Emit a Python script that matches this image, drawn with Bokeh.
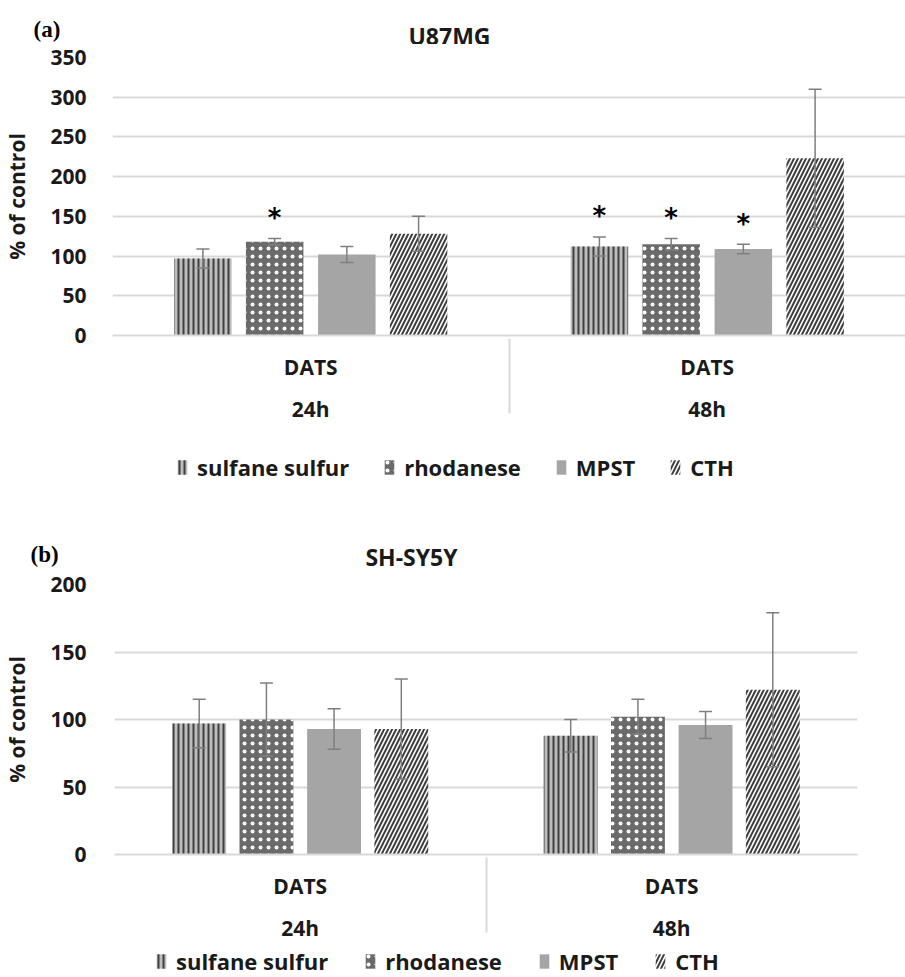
from bokeh.plotting import figure
from bokeh.models import (FactorRange, Range1d, ColumnDataSource, Whisker, TeeHead,
                          Legend, LegendItem, Label, FixedTicker)
from bokeh.layouts import column
from bokeh.transform import dodge
from bokeh.embed import file_html
from bokeh.resources import INLINE
from bokeh.core.properties import value

# ---------------- data ----------------
time_points = ["24h", "48h"]
treatment = "DATS"
series_names = ["sulfane sulfur", "rhodanese", "MPST", "CTH"]

# U87MG (% of control)
u87_sulfane = [97, 112]
u87_rhodanese = [118, 115]
u87_mpst = [102, 109]
u87_cth = [128, 223]
u87_sulfane_sd = [12, 12]
u87_rhodanese_sd = [4, 7]
u87_mpst_sd = [10, 6]
u87_cth_sd = [22, 87]
u87_sig_sulfane = [False, True]
u87_sig_rhodanese = [True, True]
u87_sig_mpst = [False, True]
u87_sig_cth = [False, False]
u87_ticks = [0, 50, 100, 150, 200, 250, 300, 350]

# SH-SY5Y (% of control)
sh_sulfane = [97, 88]
sh_rhodanese = [100, 102]
sh_mpst = [93, 96]
sh_cth = [93, 122]
sh_sulfane_sd = [18, 12]
sh_rhodanese_sd = [27, 13]
sh_mpst_sd = [15, 10]
sh_cth_sd = [37, 57]
sh_sig_sulfane = [False, False]
sh_sig_rhodanese = [False, False]
sh_sig_mpst = [False, False]
sh_sig_cth = [False, False]
sh_ticks = [0, 50, 100, 150, 200]

# ---------------- styling ----------------
FONT = "Open Sans"
TXT = "#1a1a1a"
W = 905
styles = [
    dict(fill_color="#bdbdbd", hatch_pattern="vertical_line", hatch_color="#3f3f3f",
         hatch_scale=5, hatch_weight=2),
    dict(fill_color="#6a6a6a", hatch_pattern="dot", hatch_color="white",
         hatch_scale=8, hatch_weight=2.5),
    dict(fill_color="#a5a5a5"),
    dict(fill_color="white", hatch_pattern="right_diagonal_line", hatch_color="#3f3f3f",
         hatch_scale=8, hatch_weight=2),
]
offsets = [-0.272, -0.091, 0.091, 0.272]
BAR_W = 0.145


def no_align(p):
    try:
        p.frame_align = False
    except Exception:
        pass
    return p


def blank(height):
    p = figure(width=W, height=height, x_axis_location=None, y_axis_location=None,
               min_border=0, toolbar_location=None, output_backend="svg", title=None)
    p.outline_line_color = None
    p.grid.visible = False
    return no_align(p)


def header(letter, title, height, letter_xy, title_xy):
    p = blank(height)
    p.add_layout(Label(x=letter_xy[0], y=letter_xy[1], x_units="screen", y_units="screen",
                       text=letter, text_font="Liberation Serif", text_font_size="23px",
                       text_font_style="bold", text_color="black",
                       text_align="left", text_baseline="middle"))
    p.add_layout(Label(x=title_xy[0], y=title_xy[1], x_units="screen", y_units="screen",
                       text=title, text_font=FONT, text_font_size="23px",
                       text_font_style="bold", text_color=TXT,
                       text_align="center", text_baseline="middle"))
    return p


def legend_row(height, legend_xy, spacing):
    p = blank(height)
    items = []
    for name, st in zip(series_names, styles):
        # zero-height key glyph: only used to draw the legend swatch
        r = p.vbar(x=[0], top=[0], width=0.5, line_color=None, **st)
        items.append(LegendItem(label=name, renderers=[r]))
    p.add_layout(Legend(items=items, orientation="horizontal", location=legend_xy,
                        label_text_font=FONT, label_text_font_size="22px",
                        label_text_font_style="bold", label_text_color=TXT,
                        glyph_width=12, glyph_height=18, label_standoff=9,
                        spacing=spacing, border_line_color=None,
                        background_fill_alpha=0, padding=0, margin=0))
    return p


def make_panel(means, sds, sigs, ticks, height, bt, bb, bl, br, tick_standoff, star_gap):
    factors = [(t, treatment) for t in time_points]
    p = figure(x_range=FactorRange(factors=factors, range_padding=0, group_padding=0,
                                   factor_padding=0),
               y_range=Range1d(0, ticks[-1]), width=W, height=height,
               output_backend="svg", toolbar_location=None, title=None,
               min_border_top=bt, min_border_bottom=bb,
               min_border_left=bl, min_border_right=br)
    no_align(p)
    p.outline_line_color = None
    p.xgrid.grid_line_color = None
    p.ygrid.grid_line_color = "#d9d9d9"
    p.ygrid.grid_line_width = 2

    for m, sd, sg, st, off in zip(means, sds, sigs, styles, offsets):
        src = ColumnDataSource(dict(
            x=factors, top=m,
            upper=[a + b for a, b in zip(m, sd)],
            lower=[a - b for a, b in zip(m, sd)]))
        p.vbar(x=dodge("x", off, range=p.x_range), top="top", width=BAR_W,
               source=src, line_color=None, **st)
        w = Whisker(base=dodge("x", off, range=p.x_range), upper="upper", lower="lower",
                    source=src, line_color="#7f7f7f", line_width=1.5, level="annotation",
                    upper_head=TeeHead(size=13, line_color="#7f7f7f", line_width=1.5),
                    lower_head=TeeHead(size=13, line_color="#7f7f7f", line_width=1.5))
        p.add_layout(w)
        sx = [f for f, s in zip(factors, sg) if s]
        sy = [u + star_gap for u, s in zip(src.data["upper"], sg) if s]
        if sx:
            ssrc = ColumnDataSource(dict(x=sx, y=sy, t=["*"] * len(sx)))
            p.text(x=dodge("x", off, range=p.x_range), y="y", text="t", source=ssrc,
                   text_font=value("DejaVu Sans"), text_font_size=value("26px"),
                   text_font_style="bold", text_align="center", text_baseline="middle",
                   text_color="black")

    # y axis
    ya = p.yaxis[0]
    ya.ticker = FixedTicker(ticks=ticks)
    ya.axis_line_color = None
    ya.major_tick_line_color = None
    ya.minor_tick_line_color = None
    ya.major_label_text_font = FONT
    ya.major_label_text_font_size = "21px"
    ya.major_label_text_font_style = "bold"
    ya.major_label_text_color = TXT
    ya.major_label_standoff = tick_standoff
    ya.axis_label = "% of control"
    ya.axis_label_text_font = FONT
    ya.axis_label_text_font_size = "21px"
    ya.axis_label_text_font_style = "bold"
    ya.axis_label_text_color = TXT
    ya.axis_label_standoff = 16

    # category axis
    xa = p.xaxis[0]
    xa.axis_line_color = "#d9d9d9"
    xa.axis_line_width = 2
    xa.major_tick_line_color = None
    xa.minor_tick_line_color = None
    xa.major_label_text_font = FONT
    xa.major_label_text_font_size = "21px"
    xa.major_label_text_font_style = "bold"
    xa.major_label_text_color = TXT
    xa.major_label_standoff = 11
    xa.group_text_font = FONT
    xa.group_text_font_size = "21px"
    xa.group_text_font_style = "bold"
    xa.group_text_color = TXT
    xa.separator_line_color = "#d9d9d9"
    xa.separator_line_width = 2
    return p


# panel (a)
head_a = header("(a)", "U87MG", 44, letter_xy=(33, 15), title_xy=(449, 9))
pa = make_panel([u87_sulfane, u87_rhodanese, u87_mpst, u87_cth],
                [u87_sulfane_sd, u87_rhodanese_sd, u87_mpst_sd, u87_cth_sd],
                [u87_sig_sulfane, u87_sig_rhodanese, u87_sig_mpst, u87_sig_cth],
                u87_ticks, height=396, bt=13, bb=105, bl=108, br=0,
                tick_standoff=20, star_gap=26)
leg_a = legend_row(50, legend_xy=(176, 8), spacing=34)

# panel (b)
head_b = header("(b)", "SH-SY5Y", 81, letter_xy=(30, 17), title_xy=(411, 15))
pb = make_panel([sh_sulfane, sh_rhodanese, sh_mpst, sh_cth],
                [sh_sulfane_sd, sh_rhodanese_sd, sh_mpst_sd, sh_cth_sd],
                [sh_sig_sulfane, sh_sig_rhodanese, sh_sig_mpst, sh_sig_cth],
                sh_ticks, height=378, bt=13, bb=95, bl=105, br=48,
                tick_standoff=22, star_gap=26)
leg_b = legend_row(28, legend_xy=(155, 1), spacing=36)

layout = column(head_a, pa, leg_a, head_b, pb, leg_b)
open("out.html", "w").write(file_html(layout, INLINE))
